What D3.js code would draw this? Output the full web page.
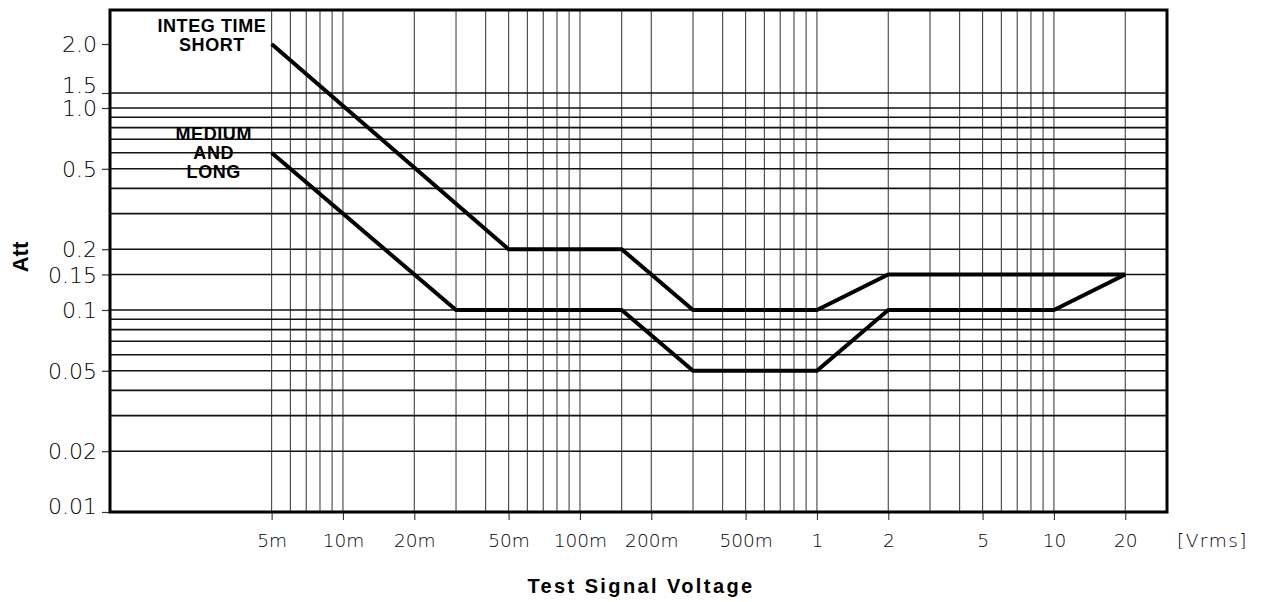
<!DOCTYPE html>
<html>
<head>
<meta charset="utf-8">
<script src="https://cdn.jsdelivr.net/npm/d3@7"></script>
<style>
  html, body { margin: 0; padding: 0; background: #fff; }
  svg { display: block; }
  .tick-y { font-family: "DejaVu Sans", sans-serif; font-weight: 200; font-size: 22px; fill: #000; }
  .tick-x { font-family: "DejaVu Sans", sans-serif; font-weight: 200; font-size: 18.5px; fill: #000; }
  .title { font-family: "Liberation Sans", Arial, sans-serif; font-weight: bold; fill: #000; }
  .note { font-family: "Liberation Sans", Arial, sans-serif; font-weight: bold; font-size: 18px; fill: #000; letter-spacing: 0.6px; }
</style>
</head>
<body>
<svg id="chart" width="1262" height="602"></svg>
<script>
// ---- data ----
const shortX = [0.005, 0.05, 0.15, 0.3, 1, 2, 20];
const shortY = [2.0, 0.2, 0.2, 0.1, 0.1, 0.15, 0.15];
const mediumX = [0.005, 0.03, 0.15, 0.3, 1, 2, 10, 20];
const mediumY = [0.6, 0.1, 0.1, 0.05, 0.05, 0.1, 0.1, 0.15];

const xGridValues = [0.005, 0.006, 0.007, 0.008, 0.009, 0.01,
  0.02, 0.03, 0.04, 0.05, 0.06, 0.07, 0.08, 0.09, 0.1, 0.15,
  0.2, 0.3, 0.4, 0.5, 0.6, 0.7, 0.8, 0.9, 1,
  2, 3, 4, 5, 6, 7, 8, 9, 10, 20];
const xTickValues = [0.005, 0.01, 0.02, 0.05, 0.1, 0.2, 0.5, 1, 2, 5, 10, 20];
const xTickLabels = ["5m", "10m", "20m", "50m", "100m", "200m", "500m", "1", "2", "5", "10", "20"];

const yGridValues = [0.02, 0.03, 0.04, 0.05, 0.06, 0.07, 0.08, 0.09, 0.1, 0.15,
  0.2, 0.3, 0.4, 0.5, 0.6, 0.7, 0.8, 0.9, 1.0, 1.5];
const yTickValues = [2.0, 1.5, 1.0, 0.5, 0.2, 0.15, 0.1, 0.05, 0.02, 0.01];
const yTickLabels = ["2.0", "1.5", "1.0", "0.5", "0.2", "0.15", "0.1", "0.05", "0.02", "0.01"];

const xUnit = "[Vrms]";
const xTitle = "Test Signal Voltage";
const yTitle = "Att";
const shortLabel = ["INTEG TIME", "SHORT"];
const mediumLabel = ["MEDIUM", "AND", "LONG"];

// ---- layout ----
const svg = d3.select("#chart");
const mLeft = 110, mRight = 1167, mTop = 10, mBottom = 512;

const x = d3.scaleLog().domain([0.00104, 30]).range([mLeft, mRight]);
// the printed axis is logarithmic, with the region above 1.0 drawn as in the original
const y = d3.scaleLog().domain([0.01, 1, 1.5, 2, 2.6]).range([mBottom, 108, 93, 44, mTop]);

// grid
const grid = svg.append("g");
grid.selectAll("line.vg").data(xGridValues).enter().append("line")
  .attr("x1", d => x(d)).attr("x2", d => x(d))
  .attr("y1", mTop).attr("y2", mBottom)
  .attr("stroke", "#444").attr("stroke-width", 1.1);
grid.selectAll("line.hg").data(yGridValues).enter().append("line")
  .attr("x1", mLeft).attr("x2", mRight)
  .attr("y1", d => y(d)).attr("y2", d => y(d))
  .attr("stroke", "#111").attr("stroke-width", 1.6);

// x ticks below frame
const xAxis = d3.axisBottom(x).tickValues(xTickValues)
  .tickFormat((d, i) => xTickLabels[i]).tickSize(8).tickPadding(14);
const gx = svg.append("g").attr("transform", `translate(0,${mBottom})`).call(xAxis);
gx.select(".domain").remove();
gx.attr("font-family", null).attr("font-size", null);
gx.selectAll(".tick line").attr("stroke", "#333").attr("stroke-width", 1.1);
gx.selectAll(".tick text").attr("class", "tick-x").attr("fill", null);

// y ticks left of frame
const yOffsets = {"1.5": -8, "0.01": -6};
const yAxis = d3.axisLeft(y).tickValues(yTickValues)
  .tickFormat((d, i) => yTickLabels[i]).tickSize(8).tickPadding(5);
const gy = svg.append("g").attr("transform", `translate(${mLeft},0)`).call(yAxis);
gy.select(".domain").remove();
gy.attr("font-family", null).attr("font-size", null);
gy.selectAll(".tick line").attr("stroke", "#333").attr("stroke-width", 1.2);
gy.selectAll(".tick text").attr("class", "tick-y").attr("fill", null)
  .attr("dy", (d, i) => `${0.35 * 22 + (yOffsets[yTickLabels[i]] || 0)}px`);

// frame
svg.append("rect")
  .attr("x", mLeft).attr("y", mTop)
  .attr("width", mRight - mLeft).attr("height", mBottom - mTop)
  .attr("fill", "none").attr("stroke", "#000").attr("stroke-width", 3);

// curves
const line = d3.line().x(d => x(d[0])).y(d => y(d[1]));
const shortPts = shortX.map((v, i) => [v, shortY[i]]);
const mediumPts = mediumX.map((v, i) => [v, mediumY[i]]);
[shortPts, mediumPts].forEach(pts => {
  svg.append("path").datum(pts).attr("d", line)
    .attr("fill", "none").attr("stroke", "#000").attr("stroke-width", 4)
    .attr("stroke-linejoin", "miter");
});

// annotations
const noteX = x(0.0028);
svg.append("text").attr("class", "note").attr("text-anchor", "middle")
  .attr("x", noteX).attr("y", 32).text(shortLabel[0]);
svg.append("text").attr("class", "note").attr("text-anchor", "middle")
  .attr("x", noteX).attr("y", 51).text(shortLabel[1]);
mediumLabel.forEach((t, i) => {
  svg.append("text").attr("class", "note").attr("text-anchor", "middle")
    .attr("x", x(0.00285)).attr("y", 140 + i * 19).text(t);
});

// unit, titles
svg.append("text").attr("class", "tick-x")
  .attr("x", mRight + 10).attr("y", 547).style("letter-spacing", "1.5px").text(xUnit);
svg.append("text").attr("class", "title")
  .attr("x", 641).attr("y", 593).attr("text-anchor", "middle")
  .style("font-size", "20px").style("letter-spacing", "2.4px").text(xTitle);
svg.append("text").attr("class", "title")
  .attr("transform", "translate(28,257) rotate(-90)").attr("text-anchor", "middle")
  .style("font-size", "22px").text(yTitle);
</script>
</body>
</html>
